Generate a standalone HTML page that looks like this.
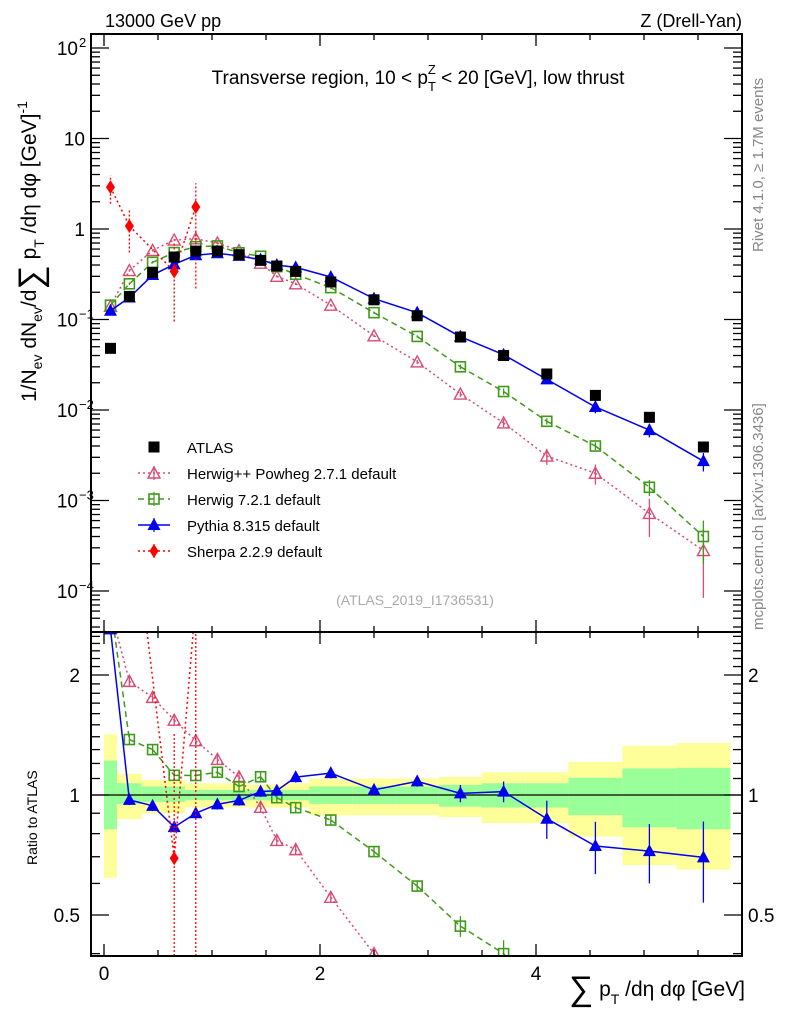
<!DOCTYPE html>
<html><head><meta charset="utf-8"><style>
html,body{margin:0;background:#fff;width:786px;height:1024px;overflow:hidden}
svg{display:block;font-family:"Liberation Sans",sans-serif;overflow:hidden}
</style></head><body>
<svg id="c" width="786" height="1024" viewBox="0 0 786 1024">
<defs>
<clipPath id="cm"><rect x="91" y="34" width="651" height="598"/></clipPath>
<clipPath id="cr"><rect x="91" y="632" width="651" height="324"/></clipPath>
</defs>
<g id="bands" clip-path="url(#cr)"></g>
<g id="marks"></g>
<rect x="91" y="34" width="651" height="598" fill="none" stroke="#000" stroke-width="2"/>
<rect x="91" y="632" width="651" height="324" fill="none" stroke="#000" stroke-width="2"/>
<g id="axes"></g>
<text x="105" y="27" font-size="18">13000 GeV pp</text>
<text x="742" y="27" font-size="18" text-anchor="end">Z (Drell-Yan)</text>
<text x="418" y="84" font-size="19" text-anchor="middle">Transverse region, 10 &lt; p<tspan font-size="13" dy="7">T</tspan><tspan font-size="13" dx="-8" dy="-17">Z</tspan><tspan dy="10"> &lt; 20 [GeV], low thrust</tspan></text>
<text transform="translate(763,252) rotate(-90)" font-size="15" fill="#888">Rivet 4.1.0, ≥ 1.7M events</text>
<text transform="translate(763,630) rotate(-90)" font-size="15" fill="#888">mcplots.cern.ch [arXiv:1306.3436]</text>
<text x="415" y="605" font-size="14" fill="#aaa" text-anchor="middle">(ATLAS_2019_I1736531)</text>
<text transform="translate(36,402) rotate(-90)" font-size="21">1/N<tspan font-size="14" dy="6">ev</tspan><tspan dy="-6"> dN</tspan><tspan font-size="14" dy="6">ev</tspan><tspan dy="-6">/d</tspan><tspan font-size="34" dy="6">∑</tspan><tspan dy="-6"> p</tspan><tspan font-size="14" dy="8">T</tspan><tspan dy="-8"> /dη dφ  [GeV]</tspan><tspan font-size="14" dy="-9">-1</tspan></text>
<text transform="translate(37,865) rotate(-90)" font-size="14">Ratio to ATLAS</text>
<text x="745" y="996" font-size="21" text-anchor="end"><tspan font-size="34" dy="4">∑</tspan><tspan dy="-4"> p</tspan><tspan font-size="14" dy="8">T</tspan><tspan dy="-8"> /dη dφ [GeV]</tspan></text>
<g id="legend"></g>
</svg>
<script>
const edges=[0,0.12,0.35,0.55,0.75,0.95,1.15,1.35,1.55,1.65,1.9,2.3,2.7,3.1,3.5,3.9,4.3,4.8,5.3,5.8];
const atlas=[0.048,0.18,0.33,0.49,0.57,0.57,0.52,0.45,0.39,0.34,0.26,0.165,0.11,0.064,0.040,0.025,0.0145,0.0083,0.0039];
const pythia=[0.125,0.175,0.31,0.407,0.513,0.54,0.504,0.459,0.40,0.377,0.295,0.17,0.119,0.0646,0.0408,0.0218,0.0108,0.0060,0.00272];
const pythiaErr=[0.03,0.03,0.03,0.03,0.03,0.03,0.03,0.03,0.03,0.03,0.03,0.03,0.03,0.05,0.06,0.11,0.15,0.17,0.23];
const herwig7=[0.144,0.248,0.429,0.549,0.638,0.65,0.546,0.50,0.384,0.316,0.225,0.119,0.065,0.030,0.016,0.0075,0.004,0.0014,0.0004];
const herwig7Err=[0.03,0.03,0.03,0.03,0.03,0.03,0.03,0.03,0.03,0.03,0.03,0.03,0.03,0.06,0.08,0.08,0.1,0.2,0.5];
const herwigpp=[0.14,0.347,0.58,0.755,0.78,0.70,0.577,0.419,0.30,0.248,0.144,0.066,0.034,0.015,0.0072,0.0031,0.002,0.00072,0.00028];
const herwigppErr=[0.03,0.03,0.03,0.03,0.03,0.03,0.03,0.03,0.03,0.03,0.03,0.03,0.05,0.07,0.1,0.2,0.25,0.45,0.7];
const sherpa=[2.9,1.08,null,0.34,1.75,null,null,null,null,null,null,null,null,null,null,null,null,null,null];
const sherpaLo=[1.9,0.55,null,0.095,0.22];
const sherpaHi=[3.9,1.6,null,0.7,3.2];
const bandYLo=[0.62,0.87,0.90,0.90,0.93,0.93,0.93,0.93,0.93,0.93,0.89,0.89,0.89,0.88,0.85,0.85,0.786,0.667,0.65];
const bandYHi=[1.42,1.13,1.09,1.09,1.07,1.07,1.07,1.06,1.06,1.07,1.10,1.10,1.10,1.11,1.14,1.14,1.21,1.33,1.35];
const bandGLo=[0.82,0.95,0.96,0.96,0.97,0.97,0.97,0.97,0.97,0.97,0.95,0.95,0.95,0.935,0.93,0.93,0.89,0.83,0.82];
const bandGHi=[1.22,1.07,1.05,1.05,1.03,1.03,1.03,1.03,1.03,1.03,1.05,1.05,1.05,1.06,1.07,1.07,1.105,1.166,1.17];
const xTickLabels=["0","2","4"];
const mainTickLabels=[[2,"10","2"],[1,"10",""],[0,"1",""],[-1,"10","−1"],[-2,"10","−2"],[-3,"10","−3"],[-4,"10","−4"]];
const ratioTickLabels=[2,1,0.5];

const NS="http://www.w3.org/2000/svg";
const X=v=>104+108*v;
const Y=v=>229-90.5*Math.log10(v);
const R=v=>795-398.6*Math.log10(v);
function mk(tag,attrs,parent){const e=document.createElementNS(NS,tag);for(const k in attrs)e.setAttribute(k,attrs[k]);parent.appendChild(e);return e;}
function clipPath(pts,ymin,ymax){
 let d='';
 for(let i=0;i<pts.length-1;i++){
  let [x1,y1]=pts[i],[x2,y2]=pts[i+1];
  let t0=0,t1=1,dy=y2-y1;
  if(dy===0){if(y1<ymin||y1>ymax)continue;}
  else{
   let ta=(ymin-y1)/dy,tb=(ymax-y1)/dy;
   let lo=Math.min(ta,tb),hi=Math.max(ta,tb);
   t0=Math.max(0,lo);t1=Math.min(1,hi);
   if(t0>=t1)continue;
  }
  const ax=x1+(x2-x1)*t0,ay=y1+dy*t0,bx=x1+(x2-x1)*t1,by=y1+dy*t1;
  d+=`M${ax.toFixed(2)},${ay.toFixed(2)}L${bx.toFixed(2)},${by.toFixed(2)}`;
 }
 return d;
}
const clampY=(y,lo,hi)=>Math.max(lo,Math.min(hi,y));
const centers=edges.slice(0,-1).map((e,i)=>(e+edges[i+1])/2);
const bands=document.getElementById('bands');
centers.forEach((c,i)=>{
 let r=mk('rect',{x:X(edges[i]),y:R(bandYHi[i]),width:X(edges[i+1])-X(edges[i]),height:R(bandYLo[i])-R(bandYHi[i]),fill:'#ffff99'},bands);
 
 
 let g=mk('rect',{x:X(edges[i]),y:R(bandGHi[i]),width:X(edges[i+1])-X(edges[i]),height:R(bandGLo[i])-R(bandGHi[i]),fill:'#99ff99'},bands);
 
 
});
const marks=document.getElementById('marks');
const axes=document.getElementById('axes');
let one=mk('line',{x1:91,x2:742,y1:R(1),y2:R(1),stroke:'#000','stroke-width':1.2},marks);



function marker(type,cx,cy,col,parent){
 let e;
 if(type==='sq') e=mk('rect',{x:cx-5.5,y:cy-5.5,width:11,height:11,fill:'#000'},parent);
 else if(type==='osq') e=mk('rect',{x:cx-5,y:cy-5,width:10,height:10,fill:'none',stroke:col,'stroke-width':1.6},parent);
 else if(type==='tri') e=mk('path',{d:`M${cx},${cy-7}L${cx+6.5},${cy+5}L${cx-6.5},${cy+5}Z`,fill:col},parent);
 else if(type==='otri') e=mk('path',{d:`M${cx},${cy-6}L${cx+6},${cy+5}L${cx-6},${cy+5}Z`,fill:'none',stroke:col,'stroke-width':1.4},parent);
 else e=mk('path',{d:`M${cx},${cy-7}L${cx+4.5},${cy}L${cx},${cy+7}L${cx-4.5},${cy}Z`,fill:col},parent);
 return e;
}
const series=[
 {name:'herwigpp',vals:herwigpp,err:herwigppErr,col:'#d94a74',type:'otri',dash:'2,3'},
 {name:'herwig7',vals:herwig7,err:herwig7Err,col:'#3f9a1a',type:'osq',dash:'6,4'},
 {name:'pythia',vals:pythia,err:pythiaErr,col:'#0000ee',type:'tri',dash:''},
 {name:'sherpa',vals:sherpa,col:'#ff0000',type:'dia',dash:'2,3'}
];
series.forEach(s=>{
 ['main','ratio'].forEach(panel=>{
  const ymin=panel==='main'?34:632, ymax=panel==='main'?632:956;
  const g=mk('g',{'clip-path':panel==='main'?'url(#cm)':'url(#cr)'},marks);
  
  
  const fy=panel==='main'?(i,v)=>Y(v):(i,v)=>R(v/atlas[i]);
  let pts=[];
  s.vals.forEach((v,i)=>{if(v!=null)pts.push([X(centers[i]),fy(i,v)]);});
  const pl=mk('path',{d:clipPath(pts,ymin,ymax),fill:'none',stroke:s.col,'stroke-width':1.5,'stroke-dasharray':s.dash},g);
  
  
  s.vals.forEach((v,i)=>{
   if(v==null)return;
   const cx=X(centers[i]);
   let lo,hi;
   if(s.name==='sherpa'){lo=sherpaLo[i];hi=sherpaHi[i];}else{lo=v*(1-s.err[i]);hi=v*(1+s.err[i]);}
   const ya=clampY(fy(i,lo),ymin,ymax),yb=clampY(fy(i,hi),ymin,ymax);
   if(ya!==yb){
    const eb=mk('line',{x1:cx,x2:cx,y1:ya,y2:yb,stroke:s.col,'stroke-width':1.3,'stroke-dasharray':s.name==='sherpa'?'2,2':''},g);
    
    
   }
   const cy=fy(i,v);
   if(cy<ymin-8||cy>ymax+8)return;
   const m=marker(s.type,cx,cy,s.col,g);
   
   
  });
 });
});
const ga=mk('g',{'clip-path':'url(#cm)'},marks);
atlas.forEach((v,i)=>{
 const m=marker('sq',X(centers[i]),Y(v),'#000',ga);
 
 
});
function tick(x1,y1,x2,y2){const t=mk('line',{x1,y1,x2,y2,stroke:'#000','stroke-width':1.3},axes);}
for(let v=0;v<=6;v+=0.5){const x=X(v);if(x>742)break;const L=(v%2===0)?12:6;tick(x,956,x,956-L);tick(x,632,x,632-L);tick(x,632,x,632+L);tick(x,34,x,34+L);}
xTickLabels.forEach(l=>{const t=mk('text',{x:X(+l),y:980,'font-size':19,'text-anchor':'middle'},axes);t.textContent=l;});
for(let d=-5;d<=2;d++){for(let k=1;k<10;k++){const v=k*Math.pow(10,d);const y=Y(v);if(y<34||y>632)continue;const L=k===1?18:9;tick(91,y,91+L,y);tick(742,y,742-L,y);}}
mainTickLabels.forEach(([e,b,s])=>{const t=mk('text',{x:s?78:85,y:Y(Math.pow(10,e))+7,'font-size':19,'text-anchor':'end'},axes);t.textContent=b;if(s){const u=mk('text',{x:79,y:Y(Math.pow(10,e))-1,'font-size':13},axes);u.textContent=s;}});
const rt=[0.4,0.5,0.6,0.7,0.8,0.9,1,1.1,1.2,1.3,1.4,1.5,1.6,1.7,1.8,1.9,2,2.1,2.2,2.3,2.4,2.5];
rt.forEach(v=>{const y=R(v);if(y<632||y>956)return;const L=(v===0.5||v===1||v===2)?18:9;tick(91,y,91+L,y);tick(742,y,742-L,y);});
ratioTickLabels.forEach(v=>{[[80,'end'],[748,'start']].forEach(([x,a])=>{const t=mk('text',{x,y:R(v)+7,'font-size':19,'text-anchor':a},axes);t.textContent=String(v);});});
const leg=document.getElementById('legend');
const entries=[['ATLAS','sq','#000',''],['Herwig++ Powheg 2.7.1 default','otri','#d94a74','2,3'],['Herwig 7.2.1 default','osq','#3f9a1a','6,4'],['Pythia 8.315 default','tri','#0000ee',''],['Sherpa 2.2.9 default','dia','#ff0000','2,3']];
entries.forEach((e,i)=>{
 const y=447+26*i;
 const g=mk('g',{},leg);
 
 
 if(i>0){mk('line',{x1:138,x2:170,y1:y,y2:y,stroke:e[2],'stroke-width':1.5,'stroke-dasharray':e[3]},g);mk('line',{x1:154,x2:154,y1:y-7,y2:y+7,stroke:e[2],'stroke-width':1.2},g);}
 marker(e[1],154,y,e[2],g);
 const t=mk('text',{x:187,y:y+6,'font-size':15},g);t.textContent=e[0];
});
</script>
</body></html>
